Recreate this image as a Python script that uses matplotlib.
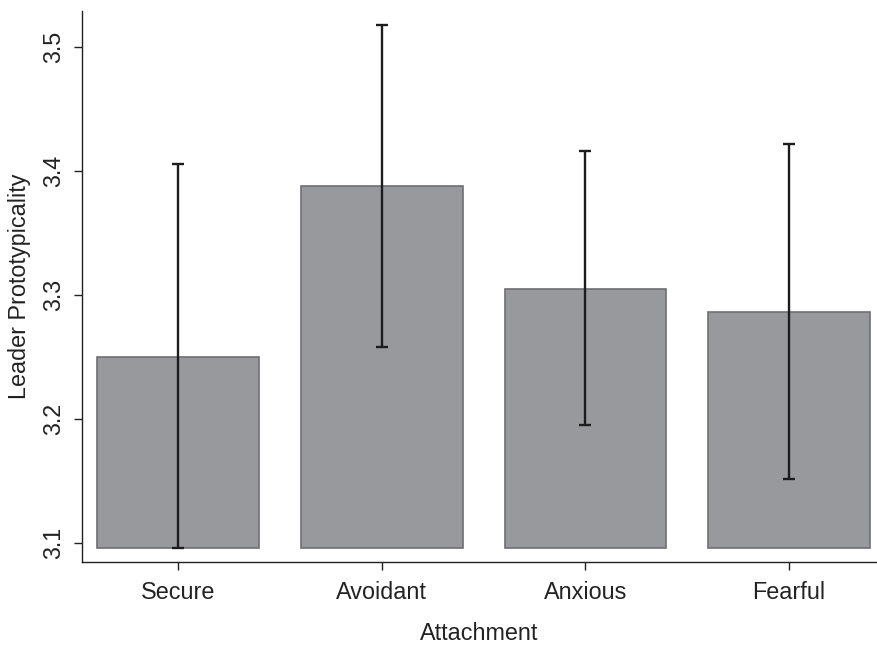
import numpy as np
import matplotlib
matplotlib.use('Agg')
import matplotlib.pyplot as plt

plt.rcParams['font.family'] = ['Liberation Sans', 'DejaVu Sans']

categories = ['Secure', 'Avoidant', 'Anxious', 'Fearful']
means = [3.250, 3.388, 3.305, 3.2865]
ci_low = [3.096, 3.258, 3.195, 3.152]
ci_high = [3.406, 3.518, 3.416, 3.422]
yticks = [3.1, 3.2, 3.3, 3.4, 3.5]

base = 3.096
x = np.arange(len(categories))
means = np.array(means)
err = [means - np.array(ci_low), np.array(ci_high) - means]

fig = plt.figure(figsize=(8.77, 6.45), dpi=100)
ax = fig.add_axes([82/877, 1-562/645, 1-82/877, (562-11)/645])

ax.bar(x, means - base, bottom=base, width=0.794, color='#98999d',
       edgecolor='#707072', linewidth=1.2, zorder=2)
ax.errorbar(x, means, yerr=err, fmt='none', ecolor='#1c1c1c',
            elinewidth=1.7, capsize=4.3, capthick=1.7, zorder=3)

ax.set_xlim(-0.4706, 3.431)
ax.set_ylim(3.0847, 3.529)
ax.set_xticks(x)
ax.set_xticklabels(categories)
ax.set_yticks(yticks)
ax.set_yticklabels([f'{v:.1f}' for v in yticks], rotation=90, va='center')

for s in ['top', 'right']:
    ax.spines[s].set_visible(False)
for s in ['left', 'bottom']:
    ax.spines[s].set_linewidth(1.0)
    ax.spines[s].set_color('#222222')

ax.tick_params(axis='both', length=6, width=1.0, color='#222222',
               labelsize=16.8, labelcolor='#222222')
ax.tick_params(axis='x', pad=8)
ax.tick_params(axis='y', pad=6)

ax.set_xlabel('Attachment', fontsize=16.8, color='#222222', labelpad=13)
ax.set_ylabel('Leader Prototypicality', fontsize=16.8, color='#222222', labelpad=8)

fig.savefig('out.png', dpi=100)
